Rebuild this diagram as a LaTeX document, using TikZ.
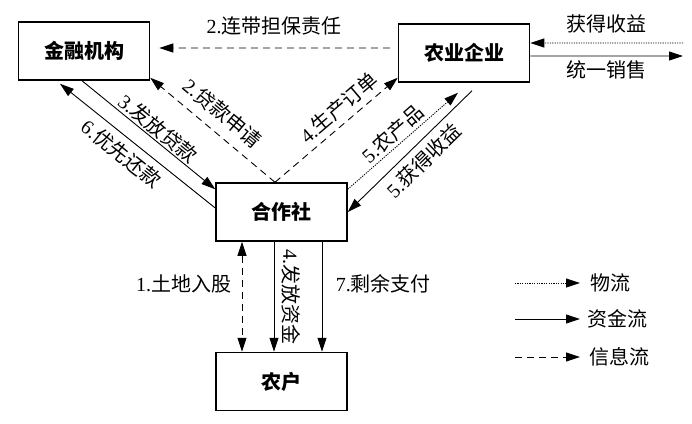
\documentclass[tikz,border=0pt]{standalone}
\usepackage{fontspec}
\setmainfont{Liberation Serif}
\newfontfamily\cjk{Noto Sans CJK SC}
\usetikzlibrary{arrows.meta,positioning,calc}

\begin{document}
\begin{tikzpicture}
        [x=1bp,y=-1bp,>={Triangle[length=14bp,width=9bp]},
        box/.style={draw,line width=1.5bp,minimum width=131bp,minimum height=58bp,inner sep=0pt,font=\fontsize{20bp}{22bp}\cjk\bfseries},
        lbl/.style={font=\fontsize{20bp}{22bp}\selectfont,inner sep=1.5bp},
        money/.style={->,line width=0.9bp},
        info/.style={->,line width=0.9bp,dash pattern=on 7bp off 5bp},
        goods/.style={->,line width=0.9bp,dash pattern=on 1.2bp off 1.2bp}]

        \useasboundingbox (0,0) rectangle (692,423);

        % boxes
        \node[box] (jr) at (84,51) {金融机构};
        \node[box] (qy) at (464,53) {农业企业};
        \node[box] (hzs) at (281.5,212) {合作社};
        \node[box, below=110bp of hzs] (nh) {农户};

        % top row
        \draw[info, shorten >=9bp, shorten <=8bp] ([yshift=5bp]qy.west) -- node[lbl,above=11bp] {2.{\cjk 连带担保责任}} ([yshift=3bp]jr.east);
        \coordinate (sy) at (683,43);
        \coordinate (xs) at (683,56);
        \draw[goods] (sy) -- node[lbl,above=8bp] {\cjk 获得收益} ([yshift=10bp]qy.east);
        \draw[money] ([yshift=-3bp]qy.east) -- node[lbl,below=3bp] {\cjk 统一销售} (xs);

        % bank <-> cooperative
        \draw[money] ([xshift=-2bp]jr.south) -- node[lbl,sloped,above,pos=0.52] {3.{\cjk 发放贷款}} ([yshift=-7bp]hzs.north west);
        \draw[money] ([yshift=4bp]hzs.west) -- node[lbl,sloped,below=5bp,pos=0.54] {6.{\cjk 优先还款}} ([xshift=-24bp,yshift=-3bp]jr.south);
        \draw[info] ([xshift=-6.5bp]hzs.north) -- node[lbl,sloped,above=8bp,pos=0.52] {2.{\cjk 贷款申请}} ([yshift=3bp]jr.south east);

        % cooperative <-> enterprise
        \draw[info] ([xshift=-6.5bp]hzs.north) -- node[lbl,sloped,above=4bp,pos=0.6] {4.{\cjk 生产订单}} ([yshift=5bp]qy.south west);
        \draw[goods] ([yshift=-7bp]hzs.north east) -- node[lbl,sloped,above=1bp,pos=0.48] {5.{\cjk 农产品}} ([xshift=-6bp,yshift=-10bp]qy.south);
        \draw[money] ([xshift=8bp,yshift=-8bp]qy.south) -- node[lbl,sloped,below=5bp,pos=0.48] {5.{\cjk 获得收益}} (hzs.east);

        % cooperative <-> farmers
        \draw[info,<->] ([xshift=-39.5bp]hzs.south) -- node[lbl,left=9bp,pos=0.38] {1.{\cjk 土地入股}} ([xshift=-39.5bp]nh.north);
        \draw[money] ([xshift=-7.5bp]hzs.south) -- node[lbl,midway,xshift=17bp,rotate=-90] {4.{\cjk 发放资金}} ([xshift=-7.5bp]nh.north);
        \draw[money] ([xshift=40.5bp]hzs.south) -- node[lbl,right=12bp,pos=0.38] {7.{\cjk 剩余支付}} ([xshift=40.5bp]nh.north);

        % legend
        \coordinate (wl) at (515,283);
        \coordinate (zjl) at (515,319);
        \coordinate (xxl) at (515,357);
        \node[lbl,anchor=west] (wlt) at (589,283) {\cjk 物流};
        \node[lbl,anchor=west] (zjlt) at (586,319) {\cjk 资金流};
        \node[lbl,anchor=west] (xxlt) at (588,357) {\cjk 信息流};
        \draw[goods] (wl) -- ([xshift=-9bp]wlt.west);
        \draw[money] (zjl) -- ([xshift=-6bp]zjlt.west);
        \draw[info] (xxl) -- ([xshift=-8bp]xxlt.west);

    \end{tikzpicture}
\end{document}
